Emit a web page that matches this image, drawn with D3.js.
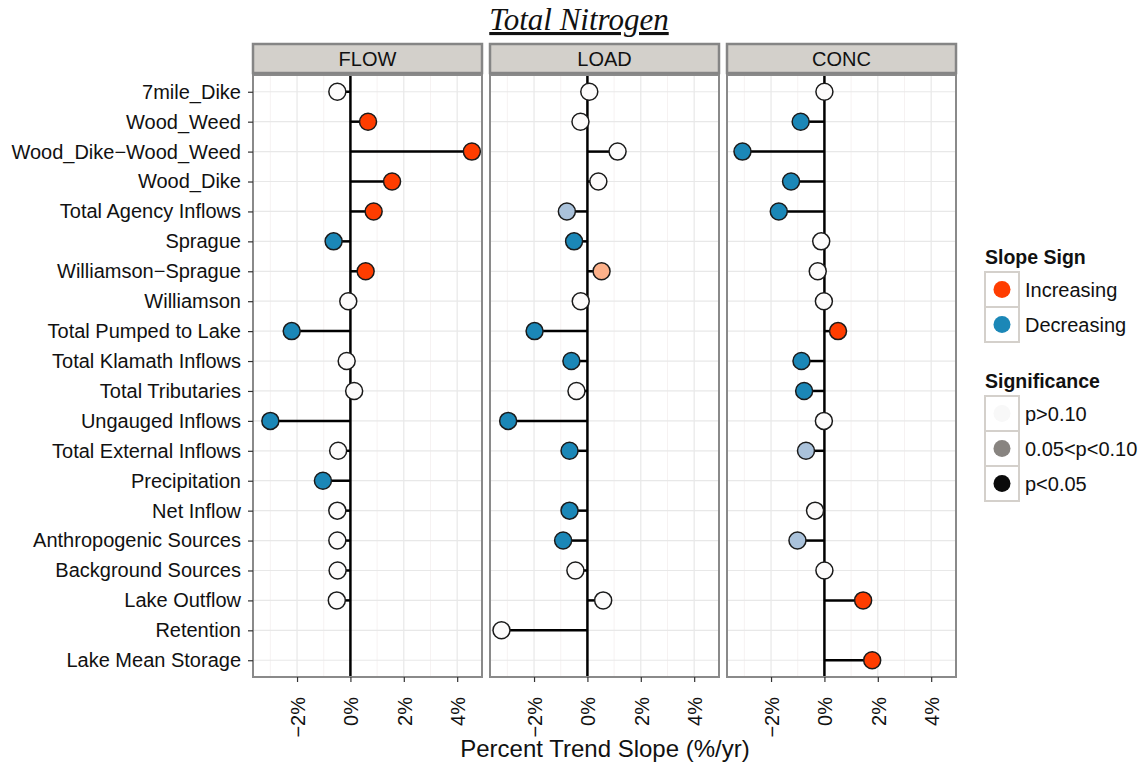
<!DOCTYPE html>
<html>
<head>
<meta charset="utf-8">
<script src="https://cdn.jsdelivr.net/npm/d3@7"></script>
<style>
  body { margin: 0; background: #fff; }
  text { font-family: "Liberation Sans", Arial, sans-serif; }
</style>
</head>
<body>
<div id="chart"></div>
<script>
// data
var categories = ['7mile_Dike', 'Wood_Weed', 'Wood_Dike\u2212Wood_Weed', 'Wood_Dike',
  'Total Agency Inflows', 'Sprague', 'Williamson\u2212Sprague', 'Williamson',
  'Total Pumped to Lake', 'Total Klamath Inflows', 'Total Tributaries', 'Ungauged Inflows',
  'Total External Inflows', 'Precipitation', 'Net Inflow', 'Anthropogenic Sources',
  'Background Sources', 'Lake Outflow', 'Retention', 'Lake Mean Storage'];
var panels = ['FLOW', 'LOAD', 'CONC'];

var flow = [-0.49, 0.66, 4.55, 1.56, 0.87, -0.63, 0.57, -0.08, -2.2, -0.14,
  0.14, -3.0, -0.46, -1.03, -0.49, -0.49, -0.48, -0.51, null, null];
var load = [0.07, -0.26, 1.13, 0.41, -0.77, -0.5, 0.53, -0.25, -1.98, -0.6,
  -0.41, -2.97, -0.67, null, -0.67, -0.91, -0.45, 0.59, -3.22, null];
var conc = [0.0, -0.89, -3.07, -1.25, -1.71, -0.12, -0.25, -0.02, 0.51, -0.86,
  -0.76, -0.02, -0.69, null, -0.35, -1.01, 0.0, 1.45, null, 1.79];

// 0 = p>0.10, 1 = 0.05<p<0.10, 2 = p<0.05
var flowSig = [0, 2, 2, 2, 2, 2, 2, 0, 2, 0, 0, 2, 0, 2, 0, 0, 0, 0, null, null];
var loadSig = [0, 0, 0, 0, 1, 2, 1, 0, 2, 2, 0, 2, 2, null, 2, 2, 0, 0, 0, null];
var concSig = [0, 2, 2, 2, 2, 0, 0, 0, 2, 2, 2, 0, 1, null, 0, 1, 0, 2, null, 2];

var xTicks = [-2, 0, 2, 4];
var xMinor = [-3, -1, 1, 3];

var values = [flow, load, conc];
var sigs = [flowSig, loadSig, concSig];

var width = 1144, height = 763;
var panelLeft = [253, 490, 727], panelW = 229;
var plotTop = 75, plotBottom = 677;

var svg = d3.select('#chart').append('svg')
  .attr('width', width)
  .attr('height', height);

var y = d3.scalePoint().domain(categories).range([plotTop, plotBottom]).padding(0.56);

var fillOf = function(v, s){
  if (s === 0) return '#fcfbfb';
  if (s === 1) return v > 0 ? '#fdb18a' : '#aac2db';
  return v > 0 ? '#ff3d00' : '#1b87b7';
};

// title
svg.append('text')
  .attr('x', 579).attr('y', 30)
  .attr('text-anchor', 'middle')
  .style('font-family', '"Liberation Serif", serif')
  .style('font-style', 'italic')
  .style('font-size', '31px')
  .style('text-decoration', 'underline')
  .attr('fill', '#111')
  .text('Total Nitrogen');

panels.forEach(function(name, p){
  var x0 = panelLeft[p];
  var x = d3.scaleLinear().domain([-3.65, 4.93]).range([x0, x0 + panelW]);
  var g = svg.append('g');

  g.append('rect').attr('x', x0).attr('y', plotTop).attr('width', panelW).attr('height', plotBottom - plotTop)
    .attr('fill', '#fff');

  g.selectAll('.minor').data(xMinor).enter().append('line')
    .attr('x1', function(d){ return x(d); }).attr('x2', function(d){ return x(d); })
    .attr('y1', plotTop).attr('y2', plotBottom)
    .attr('stroke', '#f6f2f2').attr('stroke-width', 1);

  g.selectAll('.major').data(xTicks).enter().append('line')
    .attr('x1', function(d){ return x(d); }).attr('x2', function(d){ return x(d); })
    .attr('y1', plotTop).attr('y2', plotBottom)
    .attr('stroke', '#e8e8e8').attr('stroke-width', 1.2);

  g.selectAll('.hgrid').data(categories).enter().append('line')
    .attr('x1', x0).attr('x2', x0 + panelW)
    .attr('y1', function(d){ return y(d); }).attr('y2', function(d){ return y(d); })
    .attr('stroke', '#e8e8e8').attr('stroke-width', 1.2);

  // zero line
  g.append('line')
    .attr('x1', x(0)).attr('x2', x(0)).attr('y1', plotTop).attr('y2', plotBottom)
    .attr('stroke', '#000').attr('stroke-width', 2.5);

  var pts = categories.map(function(c, i){
    return {cat: c, v: values[p][i], s: sigs[p][i]};
  }).filter(function(d){ return d.v !== null; });

  g.selectAll('.seg').data(pts).enter().append('line')
    .attr('x1', x(0)).attr('x2', function(d){ return x(d.v); })
    .attr('y1', function(d){ return y(d.cat); }).attr('y2', function(d){ return y(d.cat); })
    .attr('stroke', '#000').attr('stroke-width', 2.5);

  g.selectAll('.pt').data(pts).enter().append('circle')
    .attr('cx', function(d){ return x(d.v); })
    .attr('cy', function(d){ return y(d.cat); })
    .attr('r', 8.5)
    .attr('fill', function(d){ return fillOf(d.v, d.s); })
    .attr('stroke', '#1a1a1a').attr('stroke-width', 1.5);

  // panel border
  g.append('rect').attr('x', x0).attr('y', plotTop).attr('width', panelW).attr('height', plotBottom - plotTop)
    .attr('fill', 'none').attr('stroke', '#8a8a8a').attr('stroke-width', 2);

  // strip
  g.append('rect').attr('x', x0).attr('y', 44).attr('width', panelW).attr('height', 29)
    .attr('fill', '#d3d0cb').attr('stroke', '#858585').attr('stroke-width', 2.5);
  g.append('text').attr('x', x0 + panelW / 2).attr('y', 66)
    .attr('text-anchor', 'middle').style('font-size', '20px').attr('fill', '#111')
    .text(name);

  // x axis
  var ax = svg.append('g').attr('transform', 'translate(0,' + plotBottom + ')')
    .call(d3.axisBottom(x).tickValues(xTicks).tickSize(5).tickFormat(function(d){
      return (d < 0 ? '\u2212' + Math.abs(d) : d) + '%';
    }));
  ax.select('.domain').remove();
  ax.selectAll('.tick line').attr('stroke', '#333').attr('stroke-width', 1.2);
  ax.selectAll('.tick text')
    .attr('transform', 'rotate(-90)')
    .attr('x', -20).attr('y', 0).attr('dy', '0.36em')
    .attr('text-anchor', 'end')
    .style('font-size', '20px').attr('fill', '#111');
});

// y axis
var ay = svg.append('g').attr('transform', 'translate(' + panelLeft[0] + ',0)')
  .call(d3.axisLeft(y).tickSize(5).tickPadding(7));
ay.select('.domain').remove();
ay.selectAll('.tick line').attr('stroke', '#333').attr('stroke-width', 1.2);
ay.selectAll('.tick text').style('font-size', '20px').attr('fill', '#111');

// x title
svg.append('text').attr('x', 605).attr('y', 757)
  .attr('text-anchor', 'middle').style('font-size', '24px').attr('fill', '#111')
  .text('Percent Trend Slope (%/yr)');

// legends
var signLabels = ['Increasing', 'Decreasing'];
var signColors = ['#ff3d00', '#1b87b7'];
var sigLabels = ['p>0.10', '0.05<p<0.10', 'p<0.05'];
var sigColors = ['#f8f8f8', '#888480', '#0a0a0a'];

var drawLegend = function(title, labels, colors, ty, by){
  var lg = svg.append('g');
  lg.append('text').attr('x', 985).attr('y', ty)
    .style('font-size', '19.5px').style('font-weight', 'bold').attr('fill', '#111').text(title);
  var k = lg.selectAll('.key').data(labels).enter().append('g')
    .attr('transform', function(d, i){ return 'translate(985,' + (by + i * 35) + ')'; });
  k.append('rect').attr('width', 34).attr('height', 35)
    .attr('fill', '#fff').attr('stroke', '#d4d0cb').attr('stroke-width', 2);
  k.append('circle').attr('cx', 17).attr('cy', 17.5).attr('r', 8.5)
    .attr('fill', function(d, i){ return colors[i]; });
  k.append('text').attr('x', 40).attr('y', 17.5).attr('dy', '0.36em')
    .style('font-size', '20px').attr('fill', '#111').text(function(d){ return d; });
};
drawLegend('Slope Sign', signLabels, signColors, 264, 272);
drawLegend('Significance', sigLabels, sigColors, 388, 396);
</script>
</body>
</html>
